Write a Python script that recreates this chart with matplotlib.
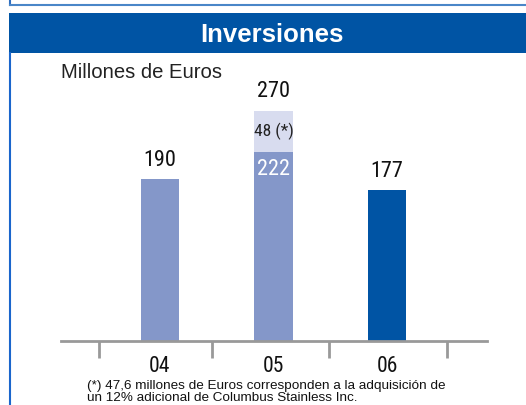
import matplotlib
matplotlib.use("Agg")
import matplotlib.pyplot as plt
from matplotlib.patches import Rectangle
from matplotlib.lines import Line2D

# data
categories = ["04", "05", "06"]
base_values = [190, 222, 177]
extra_values = [0, 48, 0]
total_labels = ["190", "270", "177"]
extra_label = "48 (*)"
title = "Inversiones"
unit_label = "Millones de Euros"
footnote_lines = ["(*) 47,6 millones de Euros corresponden a la adquisición de",
                  "un 12% adicional de Columbus Stainless Inc."]

W, H = 526, 405
fig = plt.figure(figsize=(W / 100, H / 100), dpi=100)

def fx(px):
    return px / W

def fy(py):
    return 1 - py / H

narrow = ["Roboto Condensed", "DejaVu Sans"]
sans = ["Liberation Sans", "DejaVu Sans"]

# frame lines
fig.add_artist(Line2D([fx(10), fx(10)], [fy(0), fy(5)], color="#2f6fc0", lw=1.5))
fig.add_artist(Line2D([fx(10), fx(526)], [fy(5), fy(5)], color="#4a86c8", lw=1.5))
fig.add_artist(Line2D([fx(10), fx(10)], [fy(53), fy(405)], color="#1a66cc", lw=1.5))

# banner
banner = "#0054a4"
fig.add_artist(Rectangle((fx(9), fy(53)), fx(526) - fx(9), fy(13) - fy(53),
                         transform=fig.transFigure, color=banner, lw=0))
fig.text(fx(272), fy(35.5), title, color="white", fontsize=18.5, fontweight="bold",
         ha="center", va="center", family=sans)

fig.text(fx(61), fy(72), unit_label, color="#222222", fontsize=14.6,
         ha="left", va="center", family=sans)

# axes
scale = 0.853  # px per unit
ymax = 300
ax_h_px = ymax * scale
spacing = 113.5
c0 = 160
left_px, right_px = 61, 487
xmin = (left_px - c0) / spacing
xmax = (right_px - c0) / spacing
base_px = 341
ax = fig.add_axes([fx(left_px), fy(base_px), fx(right_px) - fx(left_px), ax_h_px / H])
ax.set_xlim(xmin, xmax)
ax.set_ylim(0, ymax)
ax.patch.set_alpha(0)
for s in ["top", "right", "left"]:
    ax.spines[s].set_visible(False)
ax.spines["bottom"].set_color("#999999")
ax.spines["bottom"].set_linewidth(2)
ax.set_yticks([])

x = list(range(len(categories)))
colors = ["#8497c9", "#8497c9", "#0054a4"]
bw = 0.335
ax.bar(x, base_values, width=bw, color=colors, lw=0)
ax.bar(x, extra_values, bottom=base_values, width=bw, color="#d8dcef", lw=0)

ax.set_xticks([-0.54, 0.46, 1.49, 2.53])
ax.set_xticklabels([])
ax.tick_params(axis="x", which="major", length=12, width=2, color="#999999", direction="out")
ax.set_xticks(x, minor=True)
ax.set_xticklabels(categories, minor=True, fontsize=15.5, family=narrow, color="#111111")
ax.tick_params(axis="x", which="minor", length=0, pad=11)

tops = [b + e for b, e in zip(base_values, extra_values)]
for xi, t, lab in zip(x, tops, total_labels):
    ax.annotate(lab, (xi, t), xytext=(0, 13.5), textcoords="offset points",
                ha="center", va="center", fontsize=16, family=narrow, color="#111111",
                annotation_clip=False)
# stacked segment labels
ax.text(1, base_values[1] + extra_values[1] / 2, extra_label, ha="center", va="center",
        fontsize=12.5, family=narrow, color="#222222")
ax.text(1, base_values[1] - 21, str(base_values[1]), ha="center", va="center",
        fontsize=16, family=narrow, color="white")

for i, line in enumerate(footnote_lines):
    fig.text(fx(87), fy(389.5 + 11.5 * i), line, fontsize=9.7, family=sans,
             color="#111111", ha="left", va="baseline")

fig.savefig("out.png", dpi=100)
